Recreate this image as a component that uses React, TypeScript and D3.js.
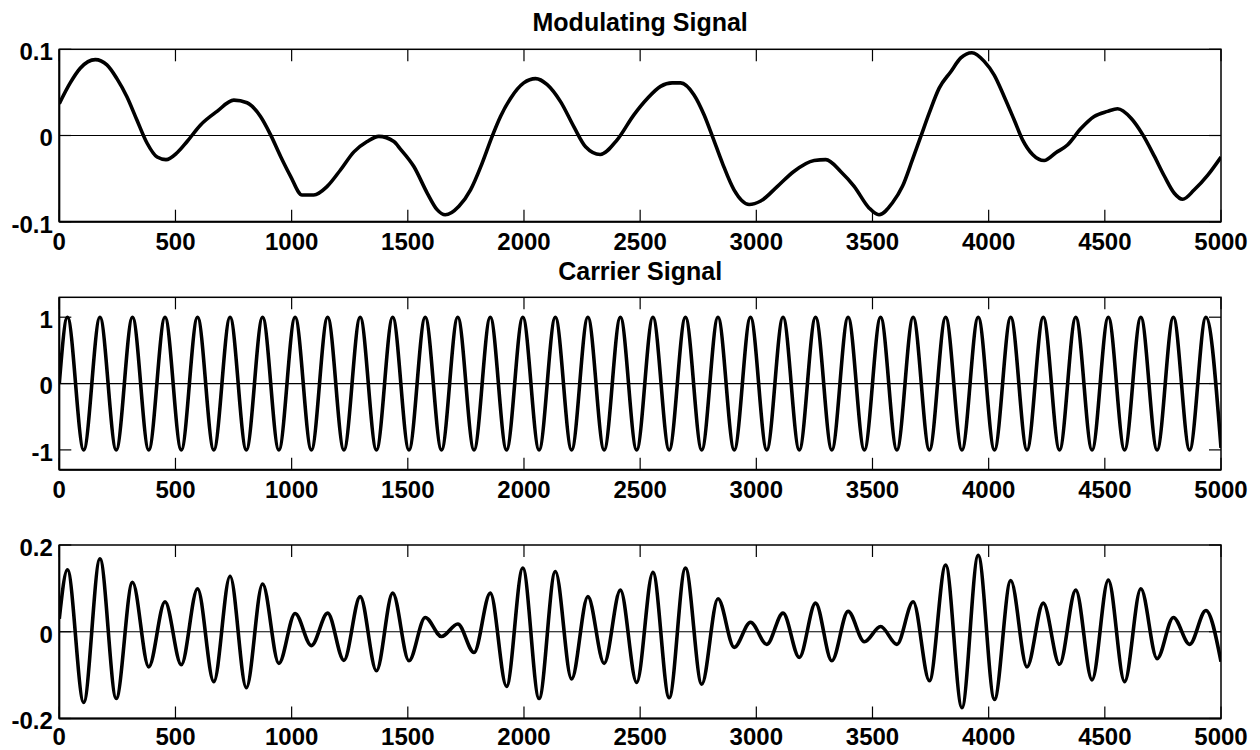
import React from 'react';
import * as d3 from 'd3';

// ---------- data ----------
const xTicks = [0, 500, 1000, 1500, 2000, 2500, 3000, 3500, 4000, 4500, 5000];

const modYTicks = [-0.1, 0, 0.1];
const modYLabels = ['-0.1', '0', '0.1'];
const carYTicks = [-1, 0, 1];
const carYLabels = ['-1', '0', '1'];
const prodYTicks = [-0.2, 0, 0.2];
const prodYLabels = ['-0.2', '0', '0.2'];

// Modulating signal (sample times and values)
const modT = [0, 47, 90, 155, 205, 248, 291, 334, 378, 421, 459, 507, 550, 607, 679, 751, 808, 866, 909, 952, 995, 1045, 1095, 1153, 1210, 1268, 1325, 1375, 1440, 1469, 1526, 1584, 1626, 1661, 1720, 1770, 1820, 1863, 1899, 1942, 1999, 2050, 2100, 2158, 2215, 2265, 2328, 2401, 2473, 2531, 2588, 2638, 2674, 2732, 2775, 2811, 2854, 2904, 2969, 3019, 3091, 3160, 3249, 3299, 3364, 3421, 3485, 3528, 3586, 3629, 3672, 3708, 3744, 3787, 3837, 3880, 3928, 3981, 4024, 4067, 4110, 4146, 4189, 4239, 4289, 4339, 4397, 4454, 4512, 4555, 4613, 4663, 4713, 4756, 4799, 4835, 4885, 4943, 5000];
const modV = [0.037, 0.061, 0.078, 0.088, 0.082, 0.066, 0.045, 0.018, -0.009, -0.025, -0.028, -0.020, -0.007, 0.012, 0.028, 0.041, 0.038, 0.022, 0.001, -0.024, -0.047, -0.069, -0.069, -0.059, -0.040, -0.019, -0.007, -0.001, -0.007, -0.016, -0.036, -0.067, -0.086, -0.092, -0.082, -0.063, -0.032, -0.001, 0.022, 0.043, 0.061, 0.066, 0.059, 0.039, 0.010, -0.013, -0.022, -0.005, 0.024, 0.043, 0.057, 0.061, 0.061, 0.047, 0.024, -0.001, -0.032, -0.063, -0.080, -0.076, -0.059, -0.042, -0.029, -0.028, -0.042, -0.059, -0.084, -0.092, -0.078, -0.059, -0.028, -0.001, 0.026, 0.055, 0.074, 0.090, 0.096, 0.086, 0.070, 0.045, 0.018, -0.005, -0.022, -0.029, -0.020, -0.011, 0.008, 0.022, 0.028, 0.031, 0.020, 0.001, -0.024, -0.047, -0.067, -0.074, -0.063, -0.046, -0.025];

// Times of the carrier's half-cycle extrema (peaks and troughs)
const halfCycleT = [35, 105, 175, 245, 315, 385, 455, 525, 595, 665, 735, 805, 875, 945, 1015, 1085, 1155, 1225, 1295, 1365, 1435, 1505, 1575, 1645, 1715, 1785, 1855, 1925, 1995, 2065, 2135, 2205, 2275, 2345, 2415, 2485, 2555, 2625, 2695, 2765, 2835, 2905, 2975, 3045, 3115, 3185, 3255, 3325, 3395, 3465, 3535, 3605, 3675, 3745, 3815, 3885, 3955, 4025, 4095, 4165, 4235, 4305, 4375, 4445, 4515, 4585, 4655, 4725, 4795, 4865, 4935];

// Carrier values at those extrema, plus start/end values
const carrierV = [1, -1, 1, -1, 1, -1, 1, -1, 1, -1, 1, -1, 1, -1, 1, -1, 1, -1, 1, -1, 1, -1, 1, -1, 1, -1, 1, -1, 1, -1, 1, -1, 1, -1, 1, -1, 1, -1, 1, -1, 1, -1, 1, -1, 1, -1, 1, -1, 1, -1, 1, -1, 1, -1, 1, -1, 1, -1, 1, -1, 1, -1, 1, -1, 1, -1, 1, -1, 1, -1, 1];
const carrierStart = 0;
const carrierEnd = -0.97;

// Modulated signal values at those extrema, plus start/end values
const productV = [0.143, -0.163, 0.168, -0.154, 0.114, -0.081, 0.069, -0.076, 0.099, -0.115, 0.128, -0.129, 0.110, -0.073, 0.042, -0.032, 0.043, -0.066, 0.081, -0.090, 0.089, -0.067, 0.033, -0.011, 0.018, -0.048, 0.089, -0.126, 0.147, -0.154, 0.139, -0.109, 0.081, -0.073, 0.096, -0.117, 0.137, -0.152, 0.147, -0.121, 0.076, -0.036, 0.022, -0.029, 0.043, -0.059, 0.066, -0.067, 0.047, -0.023, 0.012, -0.029, 0.069, -0.113, 0.154, -0.175, 0.176, -0.156, 0.118, -0.081, 0.066, -0.075, 0.096, -0.111, 0.119, -0.115, 0.099, -0.062, 0.033, -0.029, 0.049];
const productStart = 0.03;
const productEnd = -0.069;

// ---------- layout ----------
const W = 1260;
const H = 750;
const LEFT = 59.3;
const RIGHT = 1221;
const FONT = "'Liberation Sans', Arial, Helvetica, sans-serif";

type Pt = [number, number];

const modPts: Pt[] = modT.map((t, i) => [t, modV[i]]);
const carPts: Pt[] = [[0, carrierStart] as Pt, ...halfCycleT.map((t, i) => [t, carrierV[i]] as Pt), [5000, carrierEnd] as Pt];
const prodPts: Pt[] = [[0, productStart] as Pt, ...halfCycleT.map((t, i) => [t, productV[i]] as Pt), [5000, productEnd] as Pt];

interface PanelDef {
  id: string;
  top: number;
  bottom: number;
  domain: [number, number];
  ticks: number[];
  labels: string[];
  title?: string;
  titleY?: number;
  labelBase: number;
  pts: Pt[];
}

const panels: PanelDef[] = [
  { id: 'mod', top: 49.3, bottom: 221.7, domain: [-0.1, 0.1], ticks: modYTicks, labels: modYLabels, title: 'Modulating Signal', titleY: 31, labelBase: 250, pts: modPts },
  { id: 'car', top: 297.3, bottom: 469.8, domain: [-1.3, 1.3], ticks: carYTicks, labels: carYLabels, title: 'Carrier Signal', titleY: 280, labelBase: 498, pts: carPts },
  { id: 'prod', top: 545, bottom: 718.5, domain: [-0.2, 0.2], ticks: prodYTicks, labels: prodYLabels, labelBase: 745, pts: prodPts },
];

const x = d3.scaleLinear().domain([0, 5000]).range([LEFT, RIGHT]);
const TICK = 12;

function Panel({ p }: { p: PanelDef }) {
  const y = d3.scaleLinear().domain(p.domain).range([p.bottom, p.top]);
  const line = d3
    .line<Pt>()
    .x((d) => x(d[0]))
    .y((d) => y(d[1]))
    .curve(d3.curveMonotoneX);
  const clipId = `clip-${p.id}`;
  return (
    <g>
      <defs>
        <clipPath id={clipId}>
          <rect x={LEFT} y={p.top - 2} width={RIGHT - LEFT} height={p.bottom - p.top + 4} />
        </clipPath>
      </defs>
      {/* zero line */}
      <line x1={LEFT} x2={RIGHT} y1={y(0)} y2={y(0)} stroke="#000" strokeWidth={1.2} />
      {/* signal */}
      <path d={line(p.pts) || ''} fill="none" stroke="#000" strokeWidth={3.6} strokeLinejoin="round" clipPath={`url(#${clipId})`} />
      {/* x ticks top & bottom */}
      {xTicks.map((t) => (
        <g key={`xt${t}`}>
          <line x1={x(t)} x2={x(t)} y1={p.bottom} y2={p.bottom - TICK} stroke="#000" strokeWidth={1.2} />
          <line x1={x(t)} x2={x(t)} y1={p.top} y2={p.top + TICK} stroke="#000" strokeWidth={1.2} />
          <text x={x(t)} y={p.labelBase} textAnchor="middle" fontFamily={FONT} fontWeight="bold" fontSize={24} fill="#000">
            {String(t)}
          </text>
        </g>
      ))}
      {/* y ticks left & right */}
      {p.ticks.map((v, i) => (
        <g key={`yt${i}`}>
          <line x1={LEFT} x2={LEFT + TICK} y1={y(v)} y2={y(v)} stroke="#000" strokeWidth={1.2} />
          <line x1={RIGHT} x2={RIGHT - TICK} y1={y(v)} y2={y(v)} stroke="#000" strokeWidth={1.2} />
          <text x={LEFT - 6.5} y={y(v)} dy="0.45em" textAnchor="end" fontFamily={FONT} fontWeight="bold" fontSize={24} fill="#000">
            {p.labels[i]}
          </text>
        </g>
      ))}
      {/* box */}
      <rect x={LEFT} y={p.top} width={RIGHT - LEFT} height={p.bottom - p.top} fill="none" stroke="#000" strokeWidth={1.5} />
      <line x1={LEFT} x2={RIGHT} y1={p.bottom} y2={p.bottom} stroke="#000" strokeWidth={2} />
      <line x1={LEFT} x2={LEFT} y1={p.top} y2={p.bottom} stroke="#000" strokeWidth={2} />
      {p.title && (
        <text x={(LEFT + RIGHT) / 2} y={p.titleY} textAnchor="middle" fontFamily={FONT} fontWeight="bold" fontSize={25} fill="#000">
          {p.title}
        </text>
      )}
    </g>
  );
}

export default function App() {
  return (
    <svg width={W} height={H} viewBox={`0 0 ${W} ${H}`} style={{ position: 'absolute', left: 0, top: 0, background: '#fff' }}>
      <rect x={0} y={0} width={W} height={H} fill="#fff" />
      {panels.map((p) => (
        <Panel key={p.id} p={p} />
      ))}
    </svg>
  );
}
